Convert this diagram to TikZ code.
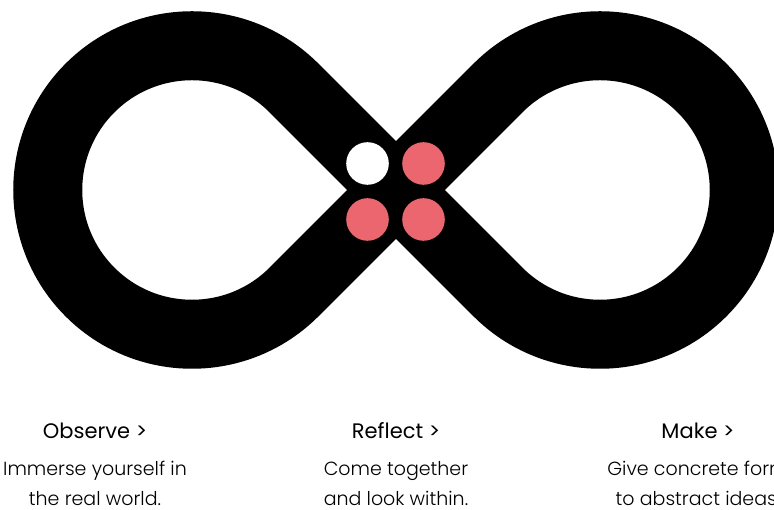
\documentclass[tikz,border=0pt]{standalone}
\usepackage{xcolor}
\usepackage{fontspec}
\setmainfont{Poppins}
\newfontfamily\lightfont{Poppins Light}
\definecolor{dotred}{RGB}{236,102,112}

\tikzset{
    loopline/.style={line width=69pt, black},
    dot/.style={circle, minimum size=42.6pt, inner sep=0pt},
    headtext/.style={anchor=base, font=\fontsize{21}{25}\selectfont},
    desctext/.style={anchor=base, align=center, font=\lightfont\fontsize{19}{31}\selectfont}
}

\begin{document}
\begin{tikzpicture}[x=1pt,y=1pt]
    \useasboundingbox (0,0) rectangle (774,510);

    % points of the loop
    \coordinate (O) at (396,320);
    \coordinate (L) at (192,320);
    \coordinate (R) at (600,320);
    \coordinate (LT) at (294,422);
    \coordinate (LB) at (294,218);
    \coordinate (RT) at (498,422);
    \coordinate (RB) at (498,218);

    % the infinity loop
    \draw[loopline] (O) -- (LT) arc[start angle=45, end angle=315, radius=144.25]
        -- (O) -- (RT) arc[start angle=135, end angle=-135, radius=144.25] -- cycle;

    % four dots in the middle
    \node[dot, fill=white] (d1) at (367.5,346.5) {};
    \node[dot, fill=dotred] (d2) at (423.5,346.5) {};
    \node[dot, fill=dotred] (d3) at (367.5,290.5) {};
    \node[dot, fill=dotred] (d4) at (423.5,290.5) {};

    % labels below
    \node[headtext] (observe) at (95,71) {Observe >};
    \node[headtext] (reflect) at (396,71) {Reflect >};
    \node[headtext] (make) at (698,71) {Make >};

    \node[desctext] (observetxt) at (95,34) {Immerse yourself in};
    \node[desctext] (observetxt2) at (95,4) {the real world.};
    \node[desctext] (reflecttxt) at (396,34) {Come together};
    \node[desctext] (reflecttxt2) at (396,4) {and look within.};
    \node[desctext] (maketxt) at (698,34) {Give concrete form};
    \node[desctext] (maketxt2) at (698,4) {to abstract ideas.};

\end{tikzpicture}
\end{document}
